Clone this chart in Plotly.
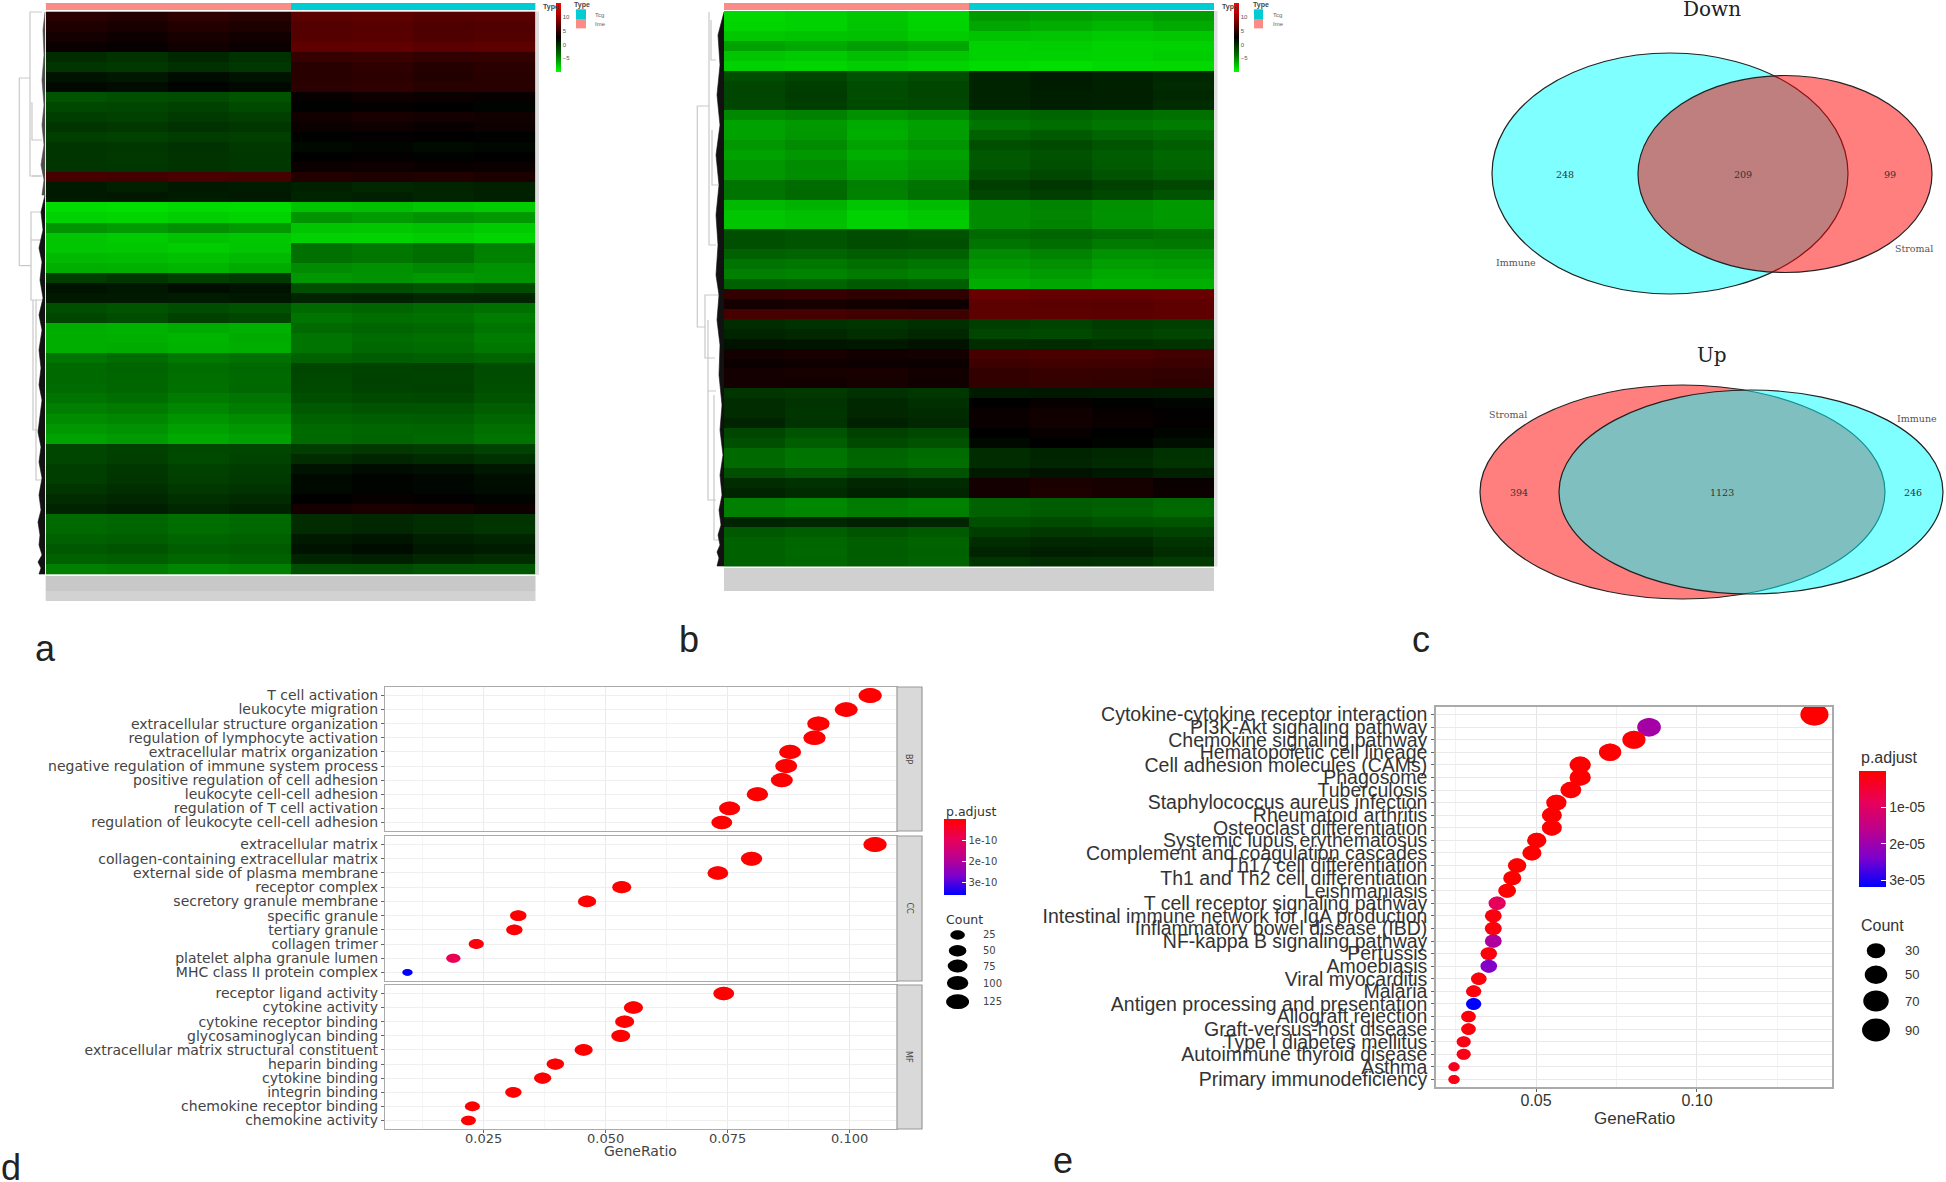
import plotly.graph_objects as go

W, H = 1946, 1182

# ---------- heat maps (rows x 8 sample blocks: 4 Ime, 4 Tcg) ----------
heat_a = [
 [4.5,4.2,4.8,4.4,6.9,7.0,6.6,6.8],[4.0,3.7,4.2,3.9,6.5,6.7,6.3,6.4],[3.5,3.2,3.7,3.4,6.6,6.8,6.3,6.5],[3.0,2.8,3.3,3.0,7.1,7.2,6.9,7.0],
 [0.0,-0.4,0.2,-0.3,5.1,5.3,4.9,5.0],[-0.5,-0.7,-0.2,-0.6,4.5,4.8,4.3,4.6],[1.5,1.2,1.8,1.4,4.5,4.7,4.2,4.5],[2.0,1.8,2.3,2.0,4.6,4.8,4.4,4.5],
 [-2.2,-2.0,-1.8,-2.3,2.8,3.2,3.0,2.9],[-1.6,-1.4,-1.2,-1.7,2.4,2.7,2.5,2.3],[-1.0,-1.2,-0.8,-1.1,3.4,3.7,3.5,3.3],[-0.5,-0.7,-0.3,-0.6,3.0,3.2,2.9,3.1],
 [-1.0,-1.2,-0.9,-1.1,2.4,2.6,2.5,2.4],[-0.5,-0.6,-0.3,-0.7,2.0,2.2,1.9,2.1],[-0.5,-0.7,-0.4,-0.6,2.5,2.7,2.4,2.5],[-0.5,-0.6,-0.4,-0.6,3.0,3.2,2.9,3.0],
 [6.0,5.8,6.1,5.9,4.2,3.9,4.1,3.8],[1.0,0.7,1.1,0.9,0.6,0.3,0.5,0.7],[1.0,1.2,0.9,1.1,0.5,0.7,0.4,0.6],[-8.5,-8.6,-8.4,-8.5,-7.4,-7.2,-7.6,-7.8],
 [-8.0,-8.2,-7.9,-8.1,-5.4,-5.7,-5.3,-5.6],[-5.4,-5.7,-5.2,-5.6,-7.5,-7.6,-7.4,-7.7],[-7.5,-7.7,-7.4,-7.6,-8.0,-8.1,-7.9,-8.2],[-7.5,-7.6,-7.8,-7.5,-3.9,-4.2,-3.8,-4.5],
 [-7.0,-7.1,-7.3,-7.0,-3.9,-4.1,-3.7,-4.6],[-6.5,-6.6,-6.8,-6.4,-5.0,-5.2,-4.9,-5.3],[-1.0,-0.6,-1.2,-0.8,-5.5,-5.3,-5.6,-5.4],[1.5,1.2,1.7,1.4,-2.0,-1.8,-2.2,-1.9],
 [1.0,1.1,0.9,1.2,0.5,0.6,0.3,0.4],[-2.0,-2.3,-1.8,-2.1,-3.5,-3.2,-3.6,-3.9],[-1.5,-1.8,-1.2,-1.4,-4.0,-3.7,-3.9,-4.4],[-6.5,-6.7,-6.4,-6.6,-3.5,-3.2,-3.4,-4.0],
 [-6.5,-6.6,-6.8,-6.4,-4.0,-3.6,-3.8,-4.4],[-6.5,-6.4,-6.7,-6.5,-4.0,-3.4,-3.6,-4.2],[-4.0,-3.6,-4.2,-3.9,-3.0,-2.7,-2.9,-3.2],[-3.5,-3.2,-3.7,-3.4,-1.5,-1.3,-1.2,-1.8],
 [-3.5,-3.3,-3.8,-3.5,-1.6,-1.2,-1.3,-1.9],[-3.6,-3.3,-3.9,-3.4,-1.7,-1.3,-1.2,-2.0],[-4.0,-3.7,-4.3,-4.0,-2.0,-1.7,-1.6,-2.3],[-4.5,-4.3,-4.8,-4.4,-2.5,-2.2,-2.3,-2.8],
 [-5.0,-4.8,-5.4,-5.0,-3.0,-2.8,-2.7,-3.3],[-5.5,-5.3,-5.9,-5.5,-3.5,-3.3,-3.2,-3.8],[-6.0,-5.7,-6.3,-5.9,-3.5,-3.2,-3.4,-4.0],[-1.5,-1.2,-1.6,-1.4,-1.0,-0.7,-0.9,-1.3],
 [-1.5,-1.1,-1.7,-1.3,0.0,0.4,0.1,-0.3],[-1.0,-0.6,-1.2,-0.9,1.5,1.8,1.6,1.2],[-1.0,-0.5,-1.1,-0.8,2.0,2.3,2.1,1.7],[-0.5,-0.1,-0.7,-0.4,2.0,2.3,2.1,1.8],
 [0.0,0.3,-0.2,0.1,2.5,2.8,2.6,2.3],[0.5,0.8,0.3,0.6,3.5,3.8,3.6,3.2],[-3.5,-3.3,-3.8,-3.4,0.0,0.3,-0.1,-0.4],[-3.5,-3.2,-3.7,-3.4,0.0,0.3,-0.1,-0.5],
 [-3.0,-2.8,-3.2,-3.0,1.0,1.3,0.8,0.5],[-2.5,-2.3,-2.8,-2.6,1.5,1.8,1.2,0.9],[-3.0,-2.8,-3.3,-3.0,0.5,0.8,0.3,0.0],[-4.5,-4.3,-4.8,-4.5,-2.0,-1.8,-2.2,-2.4],
]

heat_b = [
 [-8.3,-8.0,-7.6,-8.2,-5.6,-5.9,-6.2,-5.8],[-8.2,-8.0,-7.5,-8.1,-6.2,-6.5,-6.9,-6.4],[-7.6,-7.4,-7.3,-7.8,-7.4,-7.5,-7.7,-7.6],[-6.0,-6.3,-5.8,-6.2,-8.0,-7.9,-8.1,-8.0],
 [-7.5,-7.7,-7.2,-7.6,-8.0,-8.0,-8.1,-7.9],[-8.0,-8.2,-7.9,-8.1,-8.5,-8.6,-8.4,-8.3],[-2.0,-1.4,-2.2,-1.8,0.5,0.9,0.6,0.2],[-1.5,-1.0,-1.8,-1.5,0.5,0.9,0.6,0.1],
 [-1.5,-0.9,-1.8,-1.4,0.5,0.8,0.7,0.2],[-1.5,-1.0,-1.7,-1.6,0.5,0.8,0.6,0.0],[-4.9,-4.6,-5.2,-4.8,-3.4,-3.2,-3.6,-3.9],[-6.0,-5.6,-6.4,-5.9,-4.0,-3.7,-4.1,-4.4],
 [-6.0,-5.5,-6.5,-5.8,-3.0,-2.6,-3.2,-3.6],[-5.5,-5.0,-6.0,-5.4,-2.0,-1.7,-2.3,-2.8],[-6.0,-5.5,-6.5,-5.9,-2.5,-2.1,-2.7,-3.3],[-5.5,-5.0,-6.0,-5.5,-2.5,-2.0,-2.6,-3.2],
 [-5.5,-5.1,-5.9,-5.4,-2.0,-1.6,-2.2,-2.8],[-4.0,-3.6,-4.5,-4.0,-1.0,-0.6,-1.2,-1.6],[-4.0,-3.5,-4.6,-3.9,-1.5,-1.1,-1.6,-2.2],[-7.0,-6.7,-7.5,-7.1,-5.0,-4.7,-5.2,-5.6],
 [-7.5,-7.2,-8.0,-7.6,-5.0,-4.8,-5.3,-5.6],[-7.5,-7.3,-8.0,-7.7,-5.0,-4.7,-5.2,-5.5],[-2.0,-2.2,-1.8,-2.1,-3.5,-3.2,-3.6,-3.9],[-2.0,-2.3,-1.9,-2.0,-4.0,-3.7,-4.3,-4.2],
 [-3.0,-3.2,-2.8,-3.0,-5.0,-4.7,-5.3,-5.2],[-4.0,-4.2,-3.8,-4.1,-5.5,-5.2,-5.8,-5.7],[-4.5,-4.7,-4.3,-4.6,-6.0,-5.7,-6.3,-6.1],[-3.0,-3.2,-2.6,-2.9,-6.5,-6.2,-6.7,-6.6],
 [5.0,5.2,4.8,4.9,7.6,7.4,7.5,7.6],[3.5,3.6,3.3,3.2,7.0,6.9,6.8,7.1],[6.0,5.9,5.7,5.6,7.0,7.0,6.9,7.1],[0.0,-0.3,-0.5,-0.2,-1.0,-1.3,-0.9,-1.1],
 [0.5,0.2,-0.1,0.3,-1.5,-1.7,-1.2,-1.4],[1.5,1.3,1.2,1.4,0.0,0.1,-0.2,-0.4],[3.5,3.7,3.4,3.5,6.0,6.2,6.1,5.8],[3.0,3.2,3.1,3.0,5.5,5.7,5.6,5.4],
 [3.5,3.6,3.7,3.4,5.0,5.2,5.1,4.9],[3.5,3.4,3.6,3.3,5.0,5.1,5.0,4.8],[-0.5,-0.7,-0.3,-0.6,1.0,1.2,1.1,0.9],[0.0,-0.4,0.2,-0.2,2.5,2.8,2.4,2.2],
 [0.0,-0.5,0.3,0.1,3.0,3.3,2.9,2.6],[0.5,-0.4,0.6,0.3,3.0,3.4,3.0,2.7],[-1.5,-2.2,-1.2,-1.6,2.5,2.9,2.5,2.2],[-2.0,-2.8,-1.7,-2.1,2.0,2.5,2.3,1.7],
 [-3.5,-4.0,-3.2,-3.6,0.0,0.5,0.2,-0.3],[-3.5,-4.1,-3.3,-3.8,0.0,0.4,0.1,-0.4],[-2.0,-2.5,-1.8,-2.1,1.0,1.4,1.2,0.6],[0.0,-0.3,0.3,0.1,3.5,3.8,3.6,3.0],
 [0.5,0.1,0.6,0.4,3.5,3.9,3.7,3.1],[-4.5,-4.9,-4.3,-4.6,-3.0,-2.7,-2.9,-3.4],[-4.5,-4.8,-4.4,-4.5,-3.0,-2.6,-3.0,-3.5],[0.5,0.3,0.7,0.4,-2.0,-1.7,-2.1,-2.3],
 [-2.5,-2.8,-2.3,-2.6,-1.0,-0.7,-0.9,-1.3],[-3.0,-3.3,-2.8,-3.1,0.0,0.3,0.2,-0.4],[-3.0,-3.4,-2.7,-3.0,0.5,0.8,0.7,0.0],[-3.0,-3.3,-2.8,-3.1,-0.5,-0.1,-0.2,-0.8],
]
sample_types = ["Ime", "Tcg"]
heat_ticks = [-5, 0, 5, 10]

# ---------- venn ----------
venn_titles = ["Down", "Up"]
down_counts = ["248", "209", "99"]
up_counts = ["394", "1123", "246"]

# ---------- GO dot plot ----------
bp_terms = ["T cell activation","leukocyte migration","extracellular structure organization","regulation of lymphocyte activation","extracellular matrix organization","negative regulation of immune system process","positive regulation of cell adhesion","leukocyte cell-cell adhesion","regulation of T cell activation","regulation of leukocyte cell-cell adhesion"]
bp_ratio = [.1042,.0993,.0936,.0928,.0878,.0870,.0861,.0811,.0754,.0738]
bp_count = [129,123,116,115,109,108,107,101,94,92]
bp_padj = [0,0,0,0,0,0,0,0,0,0]
cc_terms = ["extracellular matrix","collagen-containing extracellular matrix","external side of plasma membrane","receptor complex","secretory granule membrane","specific granule","tertiary granule","collagen trimer","platelet alpha granule lumen","MHC class II protein complex"]
cc_ratio = [.1052,.0799,.0730,.0533,.0462,.0321,.0313,.0235,.0188,.0094]
cc_count = [130,99,91,66,57,40,39,29,23,12]
cc_padj = [0,0,0,0,0,2e-12,4e-12,1e-11,9e-11,3.6e-10]
mf_terms = ["receptor ligand activity","cytokine activity","cytokine receptor binding","glycosaminoglycan binding","extracellular matrix structural constituent","heparin binding","cytokine binding","integrin binding","chemokine receptor binding","chemokine activity"]
mf_ratio = [.0742,.0557,.0539,.0531,.0455,.0397,.0371,.0311,.0227,.0219]
mf_count = [92,69,67,66,56,49,46,39,28,27]
mf_padj = [0,0,0,0,0,0,0,0,0,0]
go_padj_ticks = [1e-10, 2e-10, 3e-10]
go_padj_labels = ["1e-10", "2e-10", "3e-10"]
go_count_ticks = [25, 50, 75, 100, 125]

# ---------- KEGG dot plot ----------
kegg_terms = ["Cytokine-cytokine receptor interaction","PI3K-Akt signaling pathway","Chemokine signaling pathway","Hematopoietic cell lineage","Cell adhesion molecules (CAMs)","Phagosome","Tuberculosis","Staphylococcus aureus infection","Rheumatoid arthritis","Osteoclast differentiation","Systemic lupus erythematosus","Complement and coagulation cascades","Th17 cell differentiation","Th1 and Th2 cell differentiation","Leishmaniasis","T cell receptor signaling pathway","Intestinal immune network for IgA production","Inflammatory bowel disease (IBD)","NF-kappa B signaling pathway","Pertussis","Amoebiasis","Viral myocarditis","Malaria","Antigen processing and presentation","Allograft rejection","Graft-versus-host disease","Type I diabetes mellitus","Autoimmune thyroid disease","Asthma","Primary immunodeficiency"]
kegg_ratio = [.1365,.0851,.0804,.0730,.0637,.0637,.0608,.0563,.0549,.0549,.0502,.0487,.0441,.0426,.0410,.0379,.0367,.0367,.0367,.0353,.0353,.0322,.0306,.0306,.0290,.0290,.0275,.0275,.0245,.0245]
kegg_count = [92,57,54,49,43,43,41,38,37,37,34,33,30,29,28,26,25,25,25,24,24,22,21,21,20,20,19,19,17,17]
kegg_padj = [0,1.9e-5,0,0,0,0,0,0,0,0,0,0,0,0,0,9e-6,1e-6,1e-6,1.8e-5,1e-6,2.3e-5,1e-6,1e-6,3.18e-5,1e-6,1e-6,2e-6,2e-6,3e-6,2e-6]
kegg_padj_ticks = [1e-5, 2e-5, 3e-5]
kegg_padj_labels = ["1e-05", "2e-05", "3e-05"]
kegg_count_ticks = [30, 50, 70, 90]

# ---------- dendrograms, read in page pixels ----------
tree_a_x = [30,19.3,19.3,31,None,42,30,30,40,None,31,32,32,42,None,32,42,None,42,31,31,42,None,31,42,None,33,33,42,None,36,36,41]
tree_a_y = [78,78,265.7,265.7,None,12,12,176,176,None,103,103,140,140,None,176,176,None,212,212,300,300,None,240,240,None,300,430,430,None,300,480,480]
leaf_a_top_x = [45,43,44,42,44,42,44,41,44,42,45]
leaf_a_top_y = [12,30,55,80,105,125,145,165,180,195,195]
leaf_a_x = [45,41,43,39,42,40,43,39,42,39,41,39,42,40,38,41,39,42,39,41,38,40,39,42,38,41,39,45]
leaf_a_y = [195,212,230,248,262,280,298,315,330,350,368,385,400,415,432,447,462,478,495,510,522,535,545,555,562,568,574,574]
tree_b_x = [709,697.3,697.3,705,705,722,None,705,705,715,None,708,708,716,None,708,708,716,None,709,709,716,None,712,712,718,None,711,711,716,None,714,714,720]
tree_b_y = [106,106,327,327,295,295,None,327,358,358,None,320,391,391,None,391,500,500,None,12,245,245,None,130,185,185,None,20,60,60,None,395,540,540]
leaf_b_x = [724,718,720,717,720,716,719,716,718,716,719,717,720,719,722,720,723,720,722,719,721,718,720,717,719,717,724]
leaf_b_y = [12,35,65,95,125,155,185,215,245,275,295,320,345,375,405,430,455,475,495,510,525,535,545,552,558,566,566]

heat_scale = [[0, "#00ff00"], [0.25, "#006e00"], [0.5, "#000000"], [1, "#ff0000"]]
anno_scale = [[0, "#f98d86"], [0.5, "#f98d86"], [0.5, "#00ccd4"], [1, "#00ccd4"]]
PADJ_STOPS = [(0, (255,0,0)), (.25, (235,0,85)), (.5, (190,0,140)), (.75, (125,0,205)), (1, (0,0,255))]


def rgb(c):
    return f"rgb({c[0]},{c[1]},{c[2]})"


def padj_colour(t):
    for (a, ca), (b, cb) in zip(PADJ_STOPS, PADJ_STOPS[1:]):
        if t <= b:
            f = (t - a) / (b - a)
            return rgb([round(ca[i] + (cb[i] - ca[i]) * f) for i in range(3)])
    return rgb(PADJ_STOPS[-1][1])


def padj_scale():
    return [[1 - a, rgb(c)] for a, c in reversed(PADJ_STOPS)]


def dx(a, b):
    return [a / W, b / W]


def dy(a, b):
    return [1 - b / H, 1 - a / H]


fig = go.Figure()
shapes, notes = [], []
axes = {}


def note(text, x, y, size, color="#333333", family="Liberation Sans", anchor="left", angle=0):
    notes.append(dict(text=text, x=x / W, y=1 - y / H, xref="paper", yref="paper", xanchor=anchor,
                      yanchor="middle", showarrow=False, textangle=angle,
                      font=dict(size=size, color=color, family=family)))


def rect(x0, y0, x1, y1, fill, line=None, lw=0):
    shapes.append(dict(type="rect", xref="x", yref="y", x0=x0, y0=y0, x1=x1, y1=y1, fillcolor=fill,
                       line=dict(color=line or fill, width=lw), layer="above"))


def ellipse(xr, yr, xv, yv, w, h, color):
    shapes.append(dict(type="circle", xref=xr, yref=yr, xsizemode="pixel", ysizemode="pixel",
                       xanchor=xv, yanchor=yv, x0=-w / 2, x1=w / 2, y0=-h / 2, y1=h / 2,
                       fillcolor=color, line=dict(width=0), layer="above"))


# page-wide axes for dendrograms, strips and venn diagrams
axes["xaxis"] = dict(domain=[0, 1], range=[0, W], visible=False, fixedrange=True)
axes["yaxis"] = dict(domain=[0, 1], range=[H, 0], visible=False, fixedrange=True)


def hide(**k):
    return dict(visible=False, fixedrange=True, **k)


def heat_panel(z, n, x0, x1, y0, y1, ybar0, ybar1, cbx, cbw, cblabel_colour="#555555"):
    a, b = f"x{n}", f"y{n}"
    c, d = f"x{n+1}", f"y{n+1}"
    fig.add_trace(go.Heatmap(z=z, xaxis=a, yaxis=b, colorscale=heat_scale, zmin=-10, zmax=15,
                             xgap=0, ygap=0, hoverinfo="skip",
                             colorbar=dict(x=cbx / W, xanchor="left", y=1 - 3 / H, yanchor="top",
                                           lenmode="pixels", len=69, thicknessmode="pixels", thickness=cbw,
                                           outlinewidth=0, tickvals=heat_ticks, ticks="", xpad=0, ypad=0,
                                           tickfont=dict(size=6, color=cblabel_colour, family="Liberation Sans"))))
    axes[f"xaxis{n}"] = hide(domain=dx(x0, x1), anchor=b)
    axes[f"yaxis{n}"] = hide(domain=dy(y0, y1), autorange="reversed", anchor=a)
    fig.add_trace(go.Heatmap(z=[[0, 1]], x=sample_types, xaxis=c, yaxis=d, colorscale=anno_scale, zmin=0, zmax=1,
                             showscale=False, hoverinfo="skip"))
    axes[f"xaxis{n+1}"] = hide(domain=dx(x0, x1), anchor=d)
    axes[f"yaxis{n+1}"] = hide(domain=dy(ybar0, ybar1), anchor=c)


heat_panel(heat_a, 2, 45.7, 535.5, 11.4, 574.7, 3, 10, 556, 5)
heat_panel(heat_b, 4, 724, 1214, 11, 566.5, 3, 10, 1234, 5)

# dendrograms
for tx, ty in [(tree_a_x, tree_a_y), (tree_b_x, tree_b_y)]:
    fig.add_trace(go.Scatter(x=tx, y=ty, mode="lines", line=dict(color="#c9c9c9", width=1.2),
                             hoverinfo="skip", showlegend=False, connectgaps=False))
for lx, ly, col in [(leaf_a_top_x, leaf_a_top_y, "#4a4a4a"), (leaf_a_x, leaf_a_y, "#111111"), (leaf_b_x, leaf_b_y, "#111111")]:
    fig.add_trace(go.Scatter(x=lx, y=ly, mode="lines", line=dict(color=col, width=0.6), fill="toself",
                             fillcolor=col, hoverinfo="skip", showlegend=False))

# grey column-name and row-name blocks next to the heat maps
rect(45.7, 576, 535.5, 591, "#c8c8c8")
rect(45.7, 591, 535.5, 601, "#d2d2d2")
rect(535.5, 11.4, 539, 574.7, "#dedede")
rect(724, 568, 1214, 591, "#d0d0d0")
rect(1214, 11, 1217.5, 566.5, "#dedede")

# small legends of the heat maps
for tx, sx0, sx1, lx, ttx in [(541, 576, 586, 593, 582), (1220, 1254, 1263, 1271, 1261)]:
    note("<b>Type</b>", tx, 7, 7, "#444444")
    note("<b>Type</b>", ttx, 5, 7, "#444444", anchor="center")
    rect(sx0, 9.3, sx1, 19, "#00ccd4")
    rect(sx0, 19, sx1, 28.4, "#f98d86")
    note(sample_types[1], lx, 15, 6, "#666666")
    note(sample_types[0], lx, 24.5, 6, "#666666")

# venn diagrams
CY, RD = "rgba(0,255,255,0.5)", "rgba(255,0,0,0.5)"
for cx, cy, rx, ry, col in [(1670, 173.5, 178, 120.5, CY), (1785, 174, 147, 98.5, RD),
                            (1682.5, 492, 202.5, 107, RD), (1751, 492, 192, 102, CY)]:
    shapes.append(dict(type="circle", xref="x", yref="y", x0=cx - rx, x1=cx + rx, y0=cy - ry, y1=cy + ry,
                       fillcolor=col, line=dict(color="#222222", width=1.2), layer="above"))
SERIF = "DejaVu Serif"
note(venn_titles[0], 1712, 9, 20, "#222222", SERIF, "center")
note(venn_titles[1], 1712, 355, 20, "#222222", SERIF, "center")
for t, x in zip(down_counts, [1565, 1743, 1890]):
    note(t, x, 175, 9.5, "#333333", SERIF, "center")
for t, x in zip(up_counts, [1519, 1722, 1913]):
    note(t, x, 492, 9.5, "#333333", SERIF, "center")
note("Immune", 1516, 262, 9.5, "#555555", SERIF, "center")
note("Stromal", 1914, 248, 9.5, "#555555", SERIF, "center")
note("Stromal", 1508, 415, 9.5, "#555555", SERIF, "center")
note("Immune", 1917, 418, 9.5, "#555555", SERIF, "center")

# GO dot plot
GO_MAX = 3.6e-10
DEJA = "DejaVu Sans"


def go_size(c):
    return 6.7 + 8.3 * ((c - 12) / 118) ** 0.5


panels = [("BP", bp_terms, bp_ratio, bp_count, bp_padj, 687, 831),
          ("CC", cc_terms, cc_ratio, cc_count, cc_padj, 836, 981),
          ("MF", mf_terms, mf_ratio, mf_count, mf_padj, 985, 1129)]
for k, (name, terms, ratio, count, padj, y0, y1) in enumerate(panels):
    n = 6 + k
    a, b = f"x{n}", f"y{n}"
    rows = list(range(len(terms)))
    marker = dict(size=[go_size(c) for c in count], color=[-p for p in padj],
                  colorscale=padj_scale(), cmin=-GO_MAX, cmax=0, line=dict(width=0))
    if k == 0:
        marker.update(showscale=True, colorbar=dict(
            x=943.6 / W, xanchor="left", y=1 - 819 / H, yanchor="top", lenmode="pixels", len=76,
            thicknessmode="pixels", thickness=22, outlinewidth=0, xpad=0, ypad=0, ticks="inside",
            ticklen=4, tickcolor="white", tickvals=[-v for v in go_padj_ticks], ticktext=go_padj_labels,
            tickfont=dict(size=10, color="#444444", family=DEJA)))
    fig.add_trace(go.Scatter(x=ratio, y=rows, mode="markers", marker=marker, xaxis=a, yaxis=b,
                             text=terms, showlegend=False))
    for r, c, p, y in zip(ratio, count, padj, rows):
        h = go_size(c)
        ellipse(a, b, r, y, h * 1.55, h, padj_colour(p / GO_MAX))
    axes[f"xaxis{n}"] = dict(domain=dx(385, 897), range=[0.0048, 0.1097], tick0=0.025, dtick=0.025, anchor=b,
                             tickformat=".3f", showgrid=True, gridcolor="#ebebeb", gridwidth=1,
                             minor=dict(dtick=0.0125, tick0=0.0125, showgrid=True, gridcolor="#f5f5f5", gridwidth=1),
                             zeroline=False, showline=True, mirror=True, linecolor="#aaaaaa", linewidth=1.2,
                             ticks="outside" if k == 2 else "", ticklen=3, tickcolor="#666666", ticklabelstandoff=-6,
                             showticklabels=k == 2, tickfont=dict(size=13, color="#444444", family=DEJA),
                             fixedrange=True)
    axes[f"yaxis{n}"] = dict(domain=dy(y0, y1), range=[len(terms) - 0.4, -0.6], tickvals=rows, ticktext=terms, anchor=a,
                             showgrid=True, gridcolor="#efefef", zeroline=False, showline=True, mirror=True,
                             linecolor="#aaaaaa", linewidth=1.2, ticks="outside", ticklen=3, tickcolor="#666666",
                             tickfont=dict(size=14, color="#444444", family=DEJA), fixedrange=True)
    rect(897, y0, 922, y1, "#d9d9d9", "#9a9a9a", 1.2)
    note(name, 909, (y0 + y1) / 2, 8, "#444444", DEJA, "center", 90)

note("GeneRatio", 640.6, 1151, 14, "#444444", DEJA, "center")
note("p.adjust", 943.6, 811, 12.5, "#333333", DEJA)
note("Count", 943.6, 919, 12.5, "#333333", DEJA)
leg_y = [935, 950.7, 966, 983, 1001.7]
fig.add_trace(go.Scatter(x=[957.6] * 5, y=leg_y, mode="markers", showlegend=False, hoverinfo="skip",
                         marker=dict(color="black", size=[go_size(c) for c in go_count_ticks])))
for c, y in zip(go_count_ticks, leg_y):
    ellipse("x", "y", 957.6, y, go_size(c) * 1.55, go_size(c), "black")
    note(str(c), 981, y, 10, "#444444", DEJA)

# KEGG dot plot
KEGG_MAX = 3.18e-5


def kegg_size(c):
    return 9 + 13 * ((c - 17) / 75) ** 0.5


rows = list(range(len(kegg_terms)))
fig.add_trace(go.Scatter(x=kegg_ratio, y=rows, mode="markers", xaxis="x9", yaxis="y9", text=kegg_terms, showlegend=False,
                         marker=dict(size=[kegg_size(c) for c in kegg_count], color=[-p for p in kegg_padj],
                                     colorscale=padj_scale(), cmin=-KEGG_MAX, cmax=0, line=dict(width=0), showscale=True,
                                     colorbar=dict(x=1858.6 / W, xanchor="left", y=1 - 770.7 / H, yanchor="top",
                                                   lenmode="pixels", len=116.3, thicknessmode="pixels", thickness=27.4,
                                                   outlinewidth=0, xpad=0, ypad=0, ticks="inside", ticklen=5, tickcolor="white",
                                                   tickvals=[-v for v in kegg_padj_ticks], ticktext=kegg_padj_labels,
                                                   tickfont=dict(size=14, color="#333333", family="Liberation Sans")))))
for r, c, p, y in zip(kegg_ratio, kegg_count, kegg_padj, rows):
    ellipse("x9", "y9", r, y, kegg_size(c) * 1.28, kegg_size(c), padj_colour(p / KEGG_MAX))
axes["xaxis9"] = dict(domain=dx(1436, 1831.5), range=[0.0189, 0.1418], tick0=0.05, dtick=0.05, tickformat=".2f", anchor="y9",
                      showgrid=True, gridcolor="#e6e6e6", minor=dict(dtick=0.025, tick0=0.025, showgrid=True, gridcolor="#f2f2f2"),
                      zeroline=False, showline=True, mirror=True, linecolor="#aaaaaa", linewidth=1.5, ticks="outside", ticklen=3,
                      ticklabelstandoff=-5, tickcolor="#666666", tickfont=dict(size=16, color="#333333", family="Liberation Sans"), fixedrange=True)
axes["yaxis9"] = dict(domain=dy(707, 1087), range=[len(kegg_terms) - 0.4, -0.6], tickvals=rows, ticktext=kegg_terms, anchor="x9",
                      showgrid=True, gridcolor="#e9e9e9", zeroline=False, showline=True, mirror=True, linecolor="#aaaaaa",
                      linewidth=1.5, ticks="outside", ticklen=3, tickcolor="#666666",
                      tickfont=dict(size=19.5, color="#333333", family="Liberation Sans"), fixedrange=True)
note("GeneRatio", 1634, 1118, 17, "#333333", "Liberation Sans", "center")
note("p.adjust", 1858.6, 757, 16, "#333333")
note("Count", 1858.6, 925, 16, "#333333")
leg_y2 = [950.7, 974.7, 1001, 1030]
fig.add_trace(go.Scatter(x=[1876] * 4, y=leg_y2, mode="markers", showlegend=False, hoverinfo="skip",
                         marker=dict(color="black", size=[kegg_size(c) for c in kegg_count_ticks])))
for c, y in zip(kegg_count_ticks, leg_y2):
    ellipse("x", "y", 1876, y, kegg_size(c) * 1.28, kegg_size(c) * 1.05, "black")
    note(str(c), 1903, y, 13, "#333333")

# panel letters
for t, x, y in [("a", 45, 648), ("b", 689, 639), ("c", 1421, 639), ("d", 11, 1167), ("e", 1063, 1160)]:
    note(t, x, y, 36, "#222222", "Liberation Sans", "center")

fig.update_layout(width=W, height=H, margin=dict(l=0, r=0, t=0, b=0, autoexpand=False), paper_bgcolor="white", plot_bgcolor="white",
                  showlegend=False, shapes=shapes, annotations=notes, **axes)
fig.write_html("out.html", config=dict(displayModeBar=False), post_script="document.body.style.margin='0';document.body.style.overflow='hidden';")
